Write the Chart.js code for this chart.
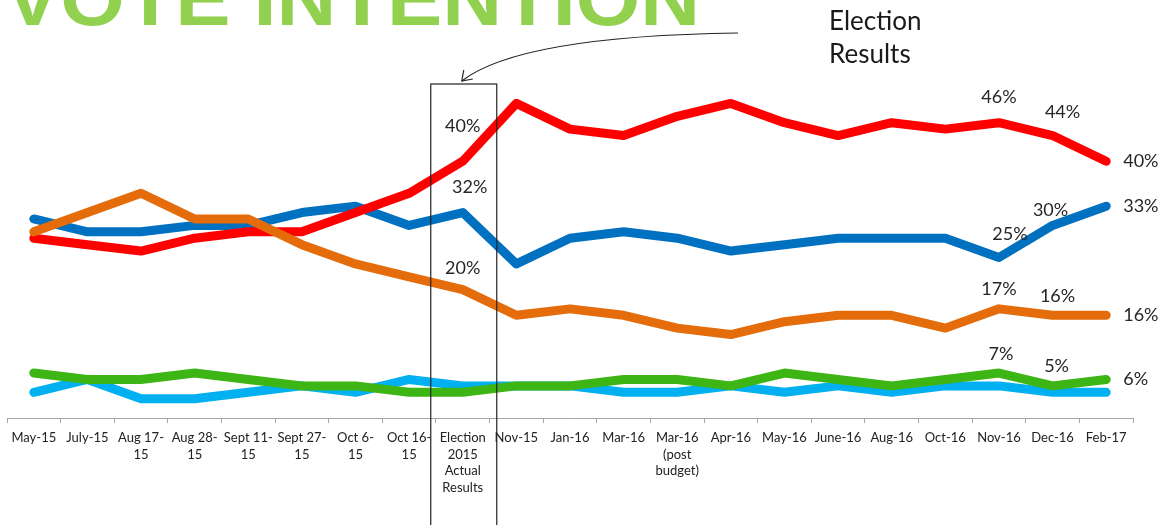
<!DOCTYPE html>
<html>
<head>
<meta charset="utf-8">
<script src="https://cdn.jsdelivr.net/npm/chart.js@4.4.0/dist/chart.umd.min.js"></script>
<style>
  html, body { margin: 0; padding: 0; background: #fff; }
  #wrap { position: relative; width: 1162px; height: 525px; overflow: hidden; }
  #chart { position: absolute; left: 0; top: 0; }
  .title { position: absolute; left: 5px; top: -39px; font: bold 76px/76px "Liberation Sans", Arial, sans-serif; color: #92D050; white-space: nowrap; transform: scaleX(1.09); transform-origin: left top; }
  .note { position: absolute; left: 829px; top: 4px; font: 26px/33px "Lato", "Noto Sans", sans-serif; color: #1a1a1a; }
</style>
</head>
<body>
<div id="wrap">
  <canvas id="chart" width="1162" height="525"></canvas>
  <div class="title">VOTE INTENTION</div>
  <div class="note">Election<br>Results</div>
</div>
<script>
// categorias do eixo x (multi-linha quando precisa)
const categories = [
  'May-15', 'July-15', ['Aug 17-', '15'], ['Aug 28-', '15'], ['Sept 11-', '15'], ['Sept 27-', '15'],
  ['Oct 6-', '15'], ['Oct 16-', '15'], ['Election', '2015', 'Actual', 'Results'], 'Nov-15', 'Jan-16',
  'Mar-16', ['Mar-16', '(post', 'budget)'], 'Apr-16', 'May-16', 'June-16', 'Aug-16', 'Oct-16',
  'Nov-16', 'Dec-16', 'Feb-17'
];

const redValues    = [28, 27, 26, 28, 29, 29, 32, 35, 40, 49, 45, 44, 47, 49, 46, 44, 46, 45, 46, 44, 40];
const blueValues   = [31, 29, 29, 30, 30, 32, 33, 30, 32, 24, 28, 29, 28, 26, 27, 28, 28, 28, 25, 30, 33];
const orangeValues = [29, 32, 35, 31, 31, 27, 24, 22, 20, 16, 17, 16, 14, 13, 15, 16, 16, 14, 17, 16, 16];
const greenValues  = [7, 6, 6, 7, 6, 5, 5, 4, 4, 5, 5, 6, 6, 5, 7, 6, 5, 6, 7, 5, 6];
const cyanValues   = [4, 6, 3, 3, 4, 5, 4, 6, 5, 5, 5, 4, 4, 5, 4, 5, 4, 5, 5, 4, 4];

const electionIndex = 8;

// quais pontos recebem rótulo (dataset, índice, deslocamento)
const labelSpots = [
  { ds: 'red', i: 8, dx: 0, dy: -35 },
  { ds: 'blue', i: 8, dx: 7, dy: -25 },
  { ds: 'orange', i: 8, dx: 0, dy: -21 },
  { ds: 'red', i: 18, dx: 0, dy: -25 },
  { ds: 'red', i: 19, dx: 10, dy: -23 },
  { ds: 'blue', i: 18, dx: 11, dy: -23 },
  { ds: 'blue', i: 19, dx: -2, dy: -15 },
  { ds: 'orange', i: 18, dx: 0, dy: -20 },
  { ds: 'orange', i: 19, dx: 5, dy: -19 },
  { ds: 'green', i: 18, dx: 2, dy: -19 },
  { ds: 'green', i: 19, dx: 4, dy: -20 },
  { ds: 'red', i: 20, right: true },
  { ds: 'blue', i: 20, right: true },
  { ds: 'orange', i: 20, right: true },
  { ds: 'green', i: 20, right: true }
];

function line(key, data, color) {
  return {
    label: key, data: data, borderColor: color, backgroundColor: color,
    borderWidth: 9, pointRadius: 0, tension: 0,
    borderJoinStyle: 'round', borderCapStyle: 'round', clip: false
  };
}

const overlay = {
  id: 'overlay',
  afterDatasetsDraw(chart) {
    const ctx = chart.ctx;
    const x = chart.scales.x, y = chart.scales.y;
    const byKey = {};
    chart.data.datasets.forEach(d => { byKey[d.label] = d.data; });

    // rótulos de porcentagem
    ctx.save();
    ctx.fillStyle = '#262626';
    ctx.font = '18px "Lato", "Noto Sans", sans-serif';
    ctx.textBaseline = 'middle';
    labelSpots.forEach(s => {
      const v = byKey[s.ds][s.i];
      const px = x.getPixelForValue(s.i), py = y.getPixelForValue(v);
      if (s.right) {
        ctx.textAlign = 'left';
        ctx.fillText(v + '%', px + 17, py);
      } else {
        ctx.textAlign = 'center';
        ctx.fillText(v + '%', px + s.dx, py + s.dy);
      }
    });
    ctx.restore();

    // caixa da eleição
    const cx = x.getPixelForValue(electionIndex);
    ctx.save();
    ctx.strokeStyle = '#222';
    ctx.lineWidth = 1.2;
    ctx.strokeRect(cx - 32, 84, 66, 460);

    // seta curva
    ctx.beginPath();
    ctx.moveTo(738, 33);
    ctx.quadraticCurveTo(520, 36, cx - 1, 81);
    ctx.stroke();
    ctx.beginPath();
    ctx.moveTo(cx + 1, 70);
    ctx.lineTo(cx - 1, 81);
    ctx.lineTo(cx + 10, 79);
    ctx.stroke();
    ctx.restore();
  }
};

new Chart(document.getElementById('chart').getContext('2d'), {
  type: 'line',
  data: {
    labels: categories,
    datasets: [
      line('green', greenValues, '#3DB515'),
      line('orange', orangeValues, '#E46C0A'),
      line('red', redValues, '#FF0000'),
      line('blue', blueValues, '#0070C0'),
      line('cyan', cyanValues, '#00B0F0')
    ]
  },
  options: {
    responsive: false,
    animation: false,
    layout: { padding: { left: 7, right: 29, top: 97, bottom: 0 } },
    plugins: { legend: { display: false }, tooltip: { enabled: false } },
    scales: {
      x: {
        offset: true,
        grid: { offset: true, drawOnChartArea: false, drawTicks: true, tickLength: 5, color: '#a6a6a6' },
        border: { color: '#a6a6a6' },
        ticks: { autoSkip: false, maxRotation: 0, minRotation: 0, padding: 6, color: '#222',
                 font: { family: '"Lato", "Noto Sans", sans-serif', size: 13, lineHeight: 1.3 } },
        afterFit(scale) { scale.height = 107; }
      },
      y: { display: false, min: 0, max: 50 }
    }
  },
  plugins: [overlay]
});
</script>
</body>
</html>
